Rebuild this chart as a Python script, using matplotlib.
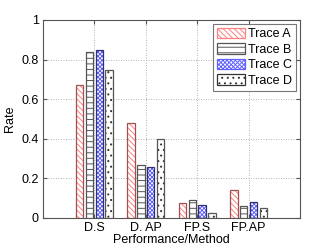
import matplotlib
matplotlib.use("Agg")
import matplotlib.pyplot as plt
import numpy as np
from matplotlib.patches import Patch

plt.rcParams['font.family'] = ['Liberation Sans', 'DejaVu Sans']
plt.rcParams['hatch.linewidth'] = 0.7

categories = ["D.S", "D. AP", "FP.S", "FP.AP"]
series_names = ["Trace A", "Trace B", "Trace C", "Trace D"]
trace_a = [0.67, 0.48, 0.075, 0.14]
trace_b = [0.84, 0.27, 0.09, 0.06]
trace_c = [0.85, 0.26, 0.065, 0.08]
trace_d = [0.75, 0.40, 0.025, 0.05]
y_ticks = [0, 0.2, 0.4, 0.6, 0.8, 1.0]
y_tick_labels = ["0", "0.2", "0.4", "0.6", "0.8", "1"]

series = [trace_a, trace_b, trace_c, trace_d]
hatches = ["\\\\\\\\\\\\", "---", "xxxxxxxx", "..."]
hatch_colors = ["#ff8080", "#555555", "#6060ff", "#333333"]
edge_colors = ["#a05050", "#555555", "#303070", "#555555"]

fig = plt.figure(figsize=(3.32, 2.5), dpi=100)
ax = fig.add_axes([0.1295, 0.128, 0.7741, 0.792])

x = np.arange(1, len(categories) + 1)
width = 0.145
step = 0.19
handles = []
for i, (vals, h, hc, ec, name) in enumerate(zip(series, hatches, hatch_colors, edge_colors, series_names)):
    pos = x + (i - 1.5) * step
    ax.bar(pos, vals, width, facecolor="white", edgecolor=hc, hatch=h, linewidth=0, zorder=3)
    ax.bar(pos, vals, width, facecolor="none", edgecolor=ec, linewidth=0.9, zorder=4)
    handles.append(Patch(facecolor="white", edgecolor=hc, hatch=h, linewidth=0.9, label=name))

ax.set_xlim(0, 5)
ax.set_ylim(0, 1)
ax.set_xticks(x)
ax.set_xticklabels(categories)
ax.set_yticks(y_ticks)
ax.set_yticklabels(y_tick_labels)
ax.grid(True, linestyle=(0, (1, 2)), color="#999999", linewidth=0.6, zorder=0)
ax.tick_params(labelsize=9, length=3, direction="in", color="#555555", pad=3,
               right=True, top=True)
for s in ax.spines.values():
    s.set_color("#555555")
    s.set_linewidth(0.8)
ax.set_xlabel("Performance/Method", fontsize=9, labelpad=0)
ax.set_ylabel("Rate", fontsize=9, labelpad=4)

leg = ax.legend(handles=handles, loc="upper right", fontsize=9, frameon=True, fancybox=False,
                edgecolor="#555555", handlelength=2.2, handleheight=0.9, labelspacing=0.25,
                borderaxespad=0.3, borderpad=0.3, handletextpad=0.3)
leg.get_frame().set_linewidth(0.8)

fig.savefig("out.png", dpi=100)
